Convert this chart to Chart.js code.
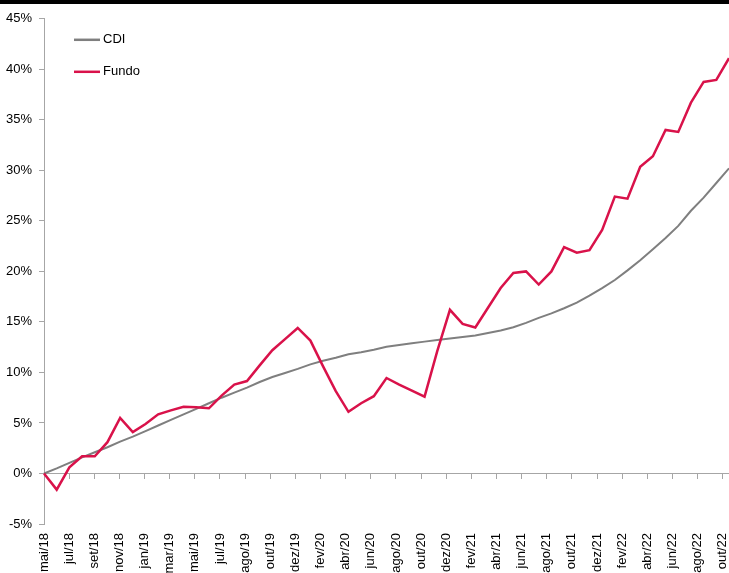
<!DOCTYPE html>
<html lang="pt-BR">
<head>
<meta charset="utf-8">
<title>CDI x Fundo</title>
<script src="https://cdn.jsdelivr.net/npm/chart.js@4.4.0/dist/chart.umd.min.js"></script>
<style>
  html, body { margin: 0; padding: 0; background: #fff; overflow: hidden; }
  #quadro { width: 729px; height: 573px; box-sizing: border-box; border-top: 4px solid #000; }
  #grafico { display: block; }
</style>
</head>
<body>
<div id="quadro"><canvas id="grafico" width="729" height="569"></canvas></div>
<script>
// rentabilidade acumulada (%) mês a mês
const meses = [
  "mai/18", "jun/18", "jul/18", "ago/18", "set/18", "out/18", "nov/18", "dez/18",
  "jan/19", "fev/19", "mar/19", "abr/19", "mai/19", "jun/19", "jul/19", "ago/19", "set/19", "out/19", "nov/19", "dez/19",
  "jan/20", "fev/20", "mar/20", "abr/20", "mai/20", "jun/20", "jul/20", "ago/20", "set/20", "out/20", "nov/20", "dez/20",
  "jan/21", "fev/21", "mar/21", "abr/21", "mai/21", "jun/21", "jul/21", "ago/21", "set/21", "out/21", "nov/21", "dez/21",
  "jan/22", "fev/22", "mar/22", "abr/22", "mai/22", "jun/22", "jul/22", "ago/22", "set/22", "out/22", "nov/22",
];

const cdi = [
  0, 0.5, 1.05, 1.6, 2.1, 2.6, 3.15, 3.65, 4.2, 4.75, 5.3, 5.85, 6.4, 6.95, 7.5, 8.0, 8.5,
  9.05, 9.55, 9.95, 10.35, 10.8, 11.15, 11.45, 11.8, 12.0, 12.25, 12.55, 12.72, 12.9, 13.05,
  13.2, 13.35, 13.5, 13.65, 13.9, 14.15, 14.47, 14.9, 15.4, 15.85, 16.35, 16.9, 17.6, 18.35,
  19.15, 20.1, 21.1, 22.2, 23.3, 24.5, 26.0, 27.3, 28.75, 30.2,
];

const fundo = [
  0, -1.6, 0.6, 1.7, 1.7, 3.1, 5.5, 4.1, 4.9, 5.85, 6.25, 6.6, 6.55, 6.45, 7.7, 8.8, 9.15,
  10.7, 12.2, 13.3, 14.4, 13.15, 10.6, 8.15, 6.1, 6.95, 7.65, 9.45, 8.8, 8.2, 7.6,
  12.1, 16.2, 14.8, 14.45, 16.4, 18.35, 19.85, 20.0, 18.7, 20.0, 22.4, 21.85, 22.1, 24.1,
  27.4, 27.2, 30.35, 31.4, 34.0, 33.8, 36.7, 38.75, 38.95, 41.1,
];

// rótulos do eixo horizontal (a cada ~60 dias)
const rotulosEixo = [
  "mai/18", "jul/18", "set/18", "nov/18", "jan/19", "mar/19", "mai/19", "jul/19", "ago/19", "out/19",
  "dez/19", "fev/20", "abr/20", "jun/20", "ago/20", "out/20", "dez/20", "fev/21", "abr/21", "jun/21",
  "ago/21", "out/21", "dez/21", "fev/22", "abr/22", "jun/22", "ago/22", "out/22",
];
const fimEixoRotulos = 27.25;

const ticksY = [-5, 0, 5, 10, 15, 20, 25, 30, 35, 40, 45];

const CINZA_EIXO = "#a6a6a6";
const FONTE = "'Liberation Sans', Arial, Helvetica, sans-serif";

Chart.defaults.font.family = FONTE;
Chart.defaults.font.size = 13;
Chart.defaults.color = "#000";

// legenda dentro da área do gráfico, no canto superior esquerdo
const legendaInterna = {
  id: "legendaInterna",
  afterDraw(chart) {
    const { ctx, chartArea } = chart;
    const x0 = chartArea.left + 30;
    ctx.save();
    ctx.font = "13px " + FONTE;
    ctx.textBaseline = "middle";
    ctx.fillStyle = "#000";
    chart.data.datasets.forEach((ds, i) => {
      const y = chartArea.top + 21 + i * 32;
      ctx.strokeStyle = ds.borderColor;
      ctx.lineWidth = 2.5;
      ctx.beginPath();
      ctx.moveTo(x0, y);
      ctx.lineTo(x0 + 26, y);
      ctx.stroke();
      ctx.fillText(ds.label, x0 + 29, y);
    });
    ctx.restore();
  },
};

const grafico = document.getElementById("grafico");

new Chart(grafico, {
  type: "line",
  data: {
    labels: meses,
    datasets: [
      {
        label: "CDI",
        data: cdi,
        borderColor: "#7f7f7f",
        backgroundColor: "#7f7f7f",
        borderWidth: 2,
        pointRadius: 0,
        tension: 0,
        order: 1,
      },
      {
        label: "Fundo",
        data: fundo,
        borderColor: "#d9124a",
        backgroundColor: "#d9124a",
        borderWidth: 2.5,
        pointRadius: 0,
        tension: 0,
        order: 0,
      },
    ],
  },
  options: {
    responsive: false,
    animation: false,
    layout: { padding: { left: -1, top: 5, right: 0, bottom: 0 } },
    plugins: {
      legend: { display: false },
      tooltip: { enabled: false },
    },
    scales: {
      x: { type: "category", display: false },
      rotulos: {
        type: "linear",
        axis: "x",
        position: "bottom",
        min: 0,
        max: fimEixoRotulos,
        grid: { display: false, drawTicks: false },
        border: { display: false },
        ticks: {
          stepSize: 1,
          includeBounds: false,
          autoSkip: false,
          minRotation: 90,
          maxRotation: 90,
          padding: 9,
          callback: (v) => rotulosEixo[v] ?? "",
        },
        // o gráfico vai até a borda direita; os rótulos não reservam margem
        afterFit: (axis) => {
          axis.paddingLeft = 0;
          axis.paddingRight = 0;
          axis.height = 49;
        },
      },
      zero: {
        type: "linear",
        axis: "x",
        position: { y: 0 },
        min: 0,
        max: fimEixoRotulos,
        ticks: { display: false, stepSize: 1, includeBounds: false },
        grid: { drawOnChartArea: false, tickLength: 5, color: CINZA_EIXO },
        border: { color: CINZA_EIXO },
      },
      y: {
        min: -5,
        max: 45,
        afterBuildTicks: (axis) => {
          axis.ticks = ticksY.map((v) => ({ value: v }));
        },
        ticks: { padding: 7, callback: (v) => v + "%" },
        grid: { drawOnChartArea: false, tickLength: 5, color: CINZA_EIXO },
        border: { color: CINZA_EIXO },
      },
    },
  },
  plugins: [legendaInterna],
});
</script>
</body>
</html>
